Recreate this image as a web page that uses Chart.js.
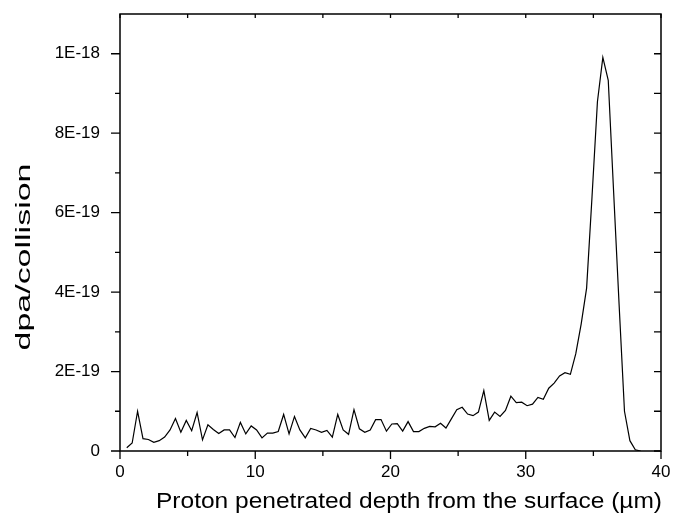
<!DOCTYPE html>
<html>
<head>
<meta charset="utf-8">
<script src="https://cdn.jsdelivr.net/npm/chart.js@4.4.1/dist/chart.umd.min.js"></script>
<style>
  html, body { margin: 0; padding: 0; background: #fff; }
  canvas { display: block; }
</style>
</head>
<body>
<canvas id="grafico" width="683" height="521"></canvas>
<script>
// depth (µm) of each bin
const depth = [0.5, 0.9, 1.3, 1.7, 2.1, 2.5, 2.9, 3.3, 3.7, 4.1, 4.5, 4.9, 5.3, 5.7, 6.1, 6.5, 6.9, 7.3, 7.7, 8.1,
  8.5, 8.9, 9.3, 9.7, 10.1, 10.5, 10.9, 11.3, 11.7, 12.1, 12.5, 12.9, 13.3, 13.7, 14.1, 14.5, 14.9, 15.3, 15.7, 16.1,
  16.5, 16.9, 17.3, 17.7, 18.1, 18.5, 18.9, 19.3, 19.7, 20.1, 20.5, 20.9, 21.3, 21.7, 22.1, 22.5, 22.9, 23.3, 23.7, 24.1,
  24.5, 24.9, 25.3, 25.7, 26.1, 26.5, 26.9, 27.3, 27.7, 28.1, 28.5, 28.9, 29.3, 29.7, 30.1, 30.5, 30.9, 31.3, 31.7, 32.1,
  32.5, 32.9, 33.3, 33.7, 34.1, 34.5, 34.9, 35.3, 35.7, 36.1, 36.5, 36.9, 37.3, 37.7, 38.1, 38.5];

// dpa/collision, in units of 1E-19
const dpa = [0.08, 0.2, 1.0, 0.31, 0.29, 0.22, 0.26, 0.35, 0.53, 0.82, 0.47, 0.77, 0.51, 0.97, 0.28, 0.66, 0.54, 0.44, 0.53, 0.53,
  0.34, 0.72, 0.43, 0.63, 0.53, 0.33, 0.45, 0.45, 0.49, 0.92, 0.43, 0.87, 0.53, 0.33, 0.57, 0.53, 0.47, 0.52, 0.35, 0.92,
  0.53, 0.42, 1.04, 0.56, 0.47, 0.53, 0.79, 0.79, 0.5, 0.68, 0.69, 0.5, 0.74, 0.49, 0.49, 0.57, 0.62, 0.61, 0.7, 0.58,
  0.81, 1.04, 1.1, 0.93, 0.89, 0.98, 1.52, 0.77, 0.98, 0.87, 1.02, 1.38, 1.22, 1.23, 1.14, 1.18, 1.35, 1.3, 1.58, 1.71,
  1.89, 1.97, 1.93, 2.45, 3.2, 4.1, 6.4, 8.79, 9.91, 9.33, 6.5, 3.7, 1.0, 0.26, 0.03, 0];

const xTicks = [0, 10, 20, 30, 40];
const xMinor = [5, 15, 25, 35];
const yTicks = [0, 2, 4, 6, 8, 10];
const yMinor = [1, 3, 5, 7, 9];
const yLabels = ['0', '2E-19', '4E-19', '6E-19', '8E-19', '1E-18'];

const xTitle = 'Proton penetrated depth from the surface (µm)';
const yTitle = 'dpa/collision';

const FONT = '"Liberation Sans", Arial, sans-serif';

const punti = depth.map((d, i) => ({ x: d, y: dpa[i] }));

// testo allungato fino a una larghezza data
function testoLargo(ctx, testo, cx, cy, larghezza) {
  const w = ctx.measureText(testo).width;
  ctx.save();
  ctx.translate(cx, cy);
  ctx.scale(larghezza / w, 1);
  ctx.fillText(testo, 0, 0);
  ctx.restore();
}

// assi, tacche e titoli disegnati a mano
const assi = {
  id: 'assi',
  afterDraw(chart) {
    const { ctx, chartArea: a, scales: { x, y } } = chart;
    ctx.save();
    ctx.strokeStyle = '#000';
    ctx.lineWidth = 1.5;
    ctx.beginPath();
    ctx.rect(a.left, a.top, a.right - a.left, a.bottom - a.top);
    ctx.stroke();

    ctx.lineWidth = 1.3;
    ctx.beginPath();
    // bottom, outward
    xTicks.forEach(v => { const p = x.getPixelForValue(v); ctx.moveTo(p, a.bottom); ctx.lineTo(p, a.bottom + 8); });
    xMinor.forEach(v => { const p = x.getPixelForValue(v); ctx.moveTo(p, a.bottom); ctx.lineTo(p, a.bottom + 5); });
    // top, inward
    xTicks.concat(xMinor).forEach(v => { const p = x.getPixelForValue(v); ctx.moveTo(p, a.top); ctx.lineTo(p, a.top + 4); });
    // left, outward
    yTicks.forEach(v => { const p = y.getPixelForValue(v); ctx.moveTo(a.left, p); ctx.lineTo(a.left - 9, p); });
    yMinor.forEach(v => { const p = y.getPixelForValue(v); ctx.moveTo(a.left, p); ctx.lineTo(a.left - 5, p); });
    // right, inward
    yTicks.concat(yMinor).forEach(v => { const p = y.getPixelForValue(v); ctx.moveTo(a.right, p); ctx.lineTo(a.right - 7, p); });
    ctx.stroke();

    ctx.fillStyle = '#000';
    ctx.textAlign = 'center';
    ctx.textBaseline = 'alphabetic';
    ctx.font = '22px ' + FONT;
    testoLargo(ctx, xTitle, 409, 508, 506);

    ctx.font = '20px ' + FONT;
    ctx.translate(30, 257);
    ctx.rotate(-Math.PI / 2);
    testoLargo(ctx, yTitle, 0, 0, 187);
    ctx.restore();
  }
};

new Chart(document.getElementById('grafico'), {
  type: 'scatter',
  data: {
    datasets: [{
      data: punti,
      showLine: true,
      borderColor: '#000',
      borderWidth: 1.2,
      pointRadius: 0,
      tension: 0
    }]
  },
  options: {
    responsive: false,
    animation: false,
    devicePixelRatio: 1,
    layout: { padding: { left: 0, top: 14, right: 22, bottom: 0 } },
    plugins: { legend: { display: false }, tooltip: { enabled: false } },
    scales: {
      x: {
        type: 'linear',
        min: 0,
        max: 40,
        afterFit(scale) {
          scale.height = 70;
          scale.paddingLeft = 0;
          scale.paddingRight = 0;
        },
        afterBuildTicks(scale) { scale.ticks = xTicks.map(v => ({ value: v })); },
        grid: { display: false, drawTicks: false },
        border: { display: false },
        ticks: {
          color: '#000',
          font: { family: FONT, size: 17 },
          padding: 11,
          maxRotation: 0,
          callback: v => String(v)
        }
      },
      y: {
        type: 'linear',
        min: 0,
        max: 11,
        afterFit(scale) {
          scale.width = 120;
          scale.paddingTop = 0;
          scale.paddingBottom = 0;
        },
        afterBuildTicks(scale) { scale.ticks = yTicks.map(v => ({ value: v })); },
        grid: { display: false, drawTicks: false },
        border: { display: false },
        ticks: {
          color: '#000',
          font: { family: FONT, size: 17 },
          padding: 20,
          callback: (v) => yLabels[yTicks.indexOf(v)]
        }
      }
    }
  },
  plugins: [assi]
});
</script>
</body>
</html>
